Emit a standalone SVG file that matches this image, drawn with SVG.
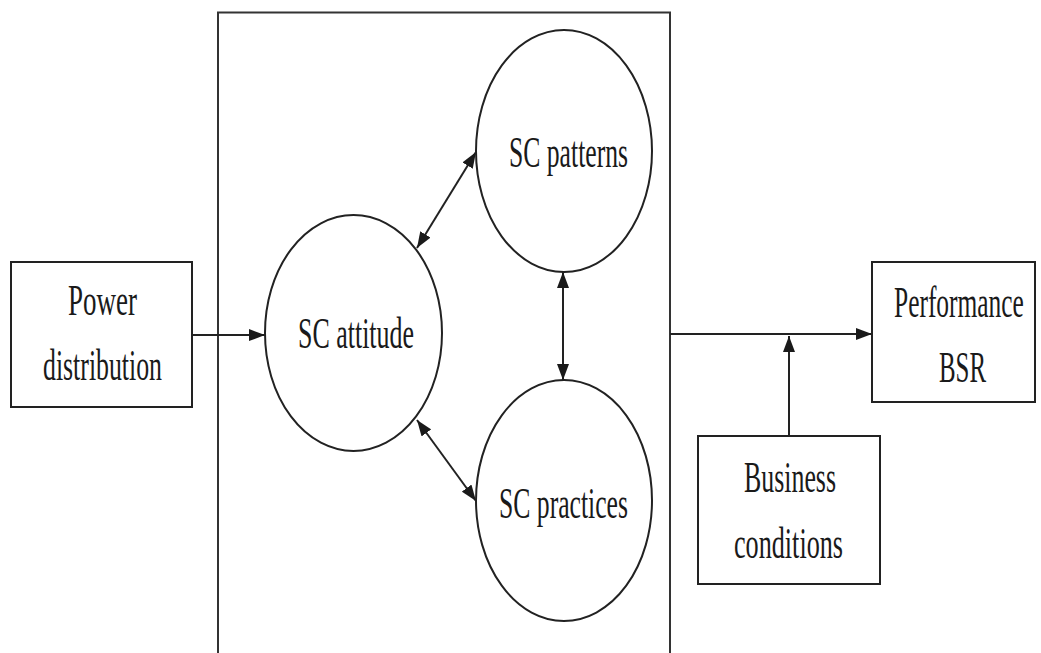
<svg xmlns="http://www.w3.org/2000/svg" width="1041" height="653" viewBox="0 0 1041 653">
  <style>
    .box { fill: #ffffff; stroke: #222222; stroke-width: 2; }
    .node { fill: #ffffff; stroke: #222222; stroke-width: 2; }
    .frame { fill: none; stroke: #333333; stroke-width: 2; }
    .edge { fill: none; stroke: #222222; stroke-width: 2; }
    .lbl { font-family: "Liberation Serif", "Times New Roman", serif; font-size: 44px; fill: #1a1a1a; text-anchor: start; }
  </style>
  <defs>
    <marker id="arrow" viewBox="0 0 16 12" refX="16" refY="6" markerWidth="16" markerHeight="12" markerUnits="userSpaceOnUse" orient="auto-start-reverse">
      <path d="M0,0 L16,6 L0,12 z" fill="#1a1a1a"/>
    </marker>
  </defs>

  <rect width="1041" height="653" fill="#ffffff"/>

  <!-- enclosing frame, open at the bottom edge -->
  <path class="frame" d="M218,660 V12.5 H670 V660"/>

  <g id="connectors">
    <line class="edge" x1="192" y1="335" x2="265" y2="335" marker-end="url(#arrow)"/>
    <line class="edge" x1="417" y1="248" x2="476" y2="152" marker-start="url(#arrow)" marker-end="url(#arrow)"/>
    <line class="edge" x1="417" y1="420" x2="476" y2="501" marker-start="url(#arrow)" marker-end="url(#arrow)"/>
    <line class="edge" x1="563" y1="272" x2="563" y2="380" marker-start="url(#arrow)" marker-end="url(#arrow)"/>
    <line class="edge" x1="670" y1="334" x2="872" y2="334" marker-end="url(#arrow)"/>
    <line class="edge" x1="789" y1="436" x2="789" y2="336" marker-end="url(#arrow)"/>
  </g>

  <g id="power-distribution">
    <rect class="box" x="11" y="262" width="181" height="145"/>
    <text class="lbl" x="68" y="315" textLength="69" lengthAdjust="spacingAndGlyphs">Power</text>
    <text class="lbl" x="43" y="380" textLength="119" lengthAdjust="spacingAndGlyphs">distribution</text>
  </g>

  <g id="sc-attitude">
    <ellipse class="node" cx="353.5" cy="333" rx="88.5" ry="118"/>
    <text class="lbl" x="298" y="348" textLength="116" lengthAdjust="spacingAndGlyphs">SC attitude</text>
  </g>

  <g id="sc-patterns">
    <ellipse class="node" cx="564" cy="151" rx="88" ry="121"/>
    <text class="lbl" x="509" y="167" textLength="119" lengthAdjust="spacingAndGlyphs">SC patterns</text>
  </g>

  <g id="sc-practices">
    <ellipse class="node" cx="564" cy="500.5" rx="88" ry="120.5"/>
    <text class="lbl" x="499" y="518" textLength="129" lengthAdjust="spacingAndGlyphs">SC practices</text>
  </g>

  <g id="performance-bsr">
    <rect class="box" x="872" y="262" width="163" height="140"/>
    <!-- condensed horizontally so the label fits the box -->
    <text class="lbl" transform="translate(894,317) scale(0.578,1)" x="0" y="0">Performance</text>
    <text class="lbl" x="939" y="382" textLength="47" lengthAdjust="spacingAndGlyphs">BSR</text>
  </g>

  <g id="business-conditions">
    <rect class="box" x="698" y="436" width="182" height="148"/>
    <text class="lbl" x="744" y="492" textLength="92" lengthAdjust="spacingAndGlyphs">Business</text>
    <text class="lbl" x="734" y="558" textLength="109" lengthAdjust="spacingAndGlyphs">conditions</text>
  </g>
</svg>
